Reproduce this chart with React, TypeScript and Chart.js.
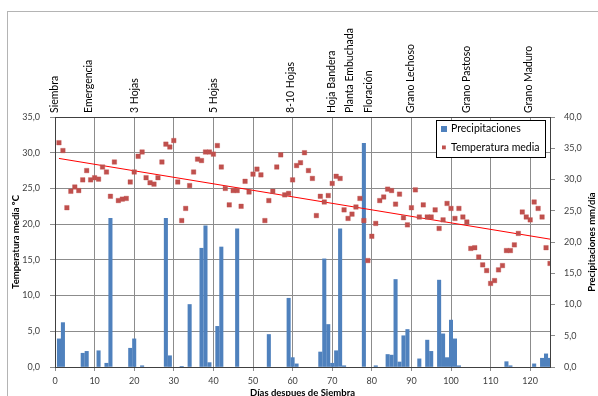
import React, { useEffect, useRef } from "react";
import { Chart, registerables } from "chart.js";

Chart.register(...registerables);

// Daily mean temperature (ºC), days 1..125 after sowing
const temperatures = [
  31.4, 30.3, 22.3, 24.6, 25.2, 24.7, 26.2, 27.5, 26.2, 26.5,
  26.3, 28.0, 27.3, 23.9, 28.7, 23.3, 23.5, 23.6, 25.9, 27.3,
  29.5, 30.1, 26.5, 25.8, 25.6, 26.5, 28.7, 31.2, 30.8, 31.7,
  25.9, 20.5, 22.2, 25.4, 27.3, 29.1, 28.9, 30.1, 30.1, 29.8,
  31.0, 28.0, 25.0, 22.7, 24.7, 24.7, 22.5, 26.0, 24.5, 27.0,
  27.7, 26.9, 20.5, 23.3, 24.6, 28.0, 29.7, 24.1, 24.3, 26.2,
  28.2, 28.6, 30.0, 27.5, 26.4, 21.2, 23.9, 23.1, 24.0, 25.7,
  26.7, 26.4, 22.0, 20.8, 21.4, 22.4, 23.6, 20.5, 14.9, 18.3,
  20.1, 23.3, 23.8, 24.9, 24.7, 22.8, 24.2, 20.9, 19.9, 22.3,
  24.8, 21.0, 22.7, 21.0, 21.0, 22.0, 19.4, 20.6, 22.9, 22.2,
  20.8, 22.2, 21.0, 20.3, 16.6, 16.7, 15.4, 14.3, 13.5, 11.7,
  12.1, 13.6, 14.2, 16.3, 16.3, 17.1, 18.7, 21.7, 21.0, 20.6,
  23.1, 22.2, 21.0, 16.7, 14.5,
];

// Daily precipitation (mm/día)
const precipDays = [
  1, 2, 7, 8, 11, 13, 14, 19, 20, 22,
  28, 29, 32, 34, 37, 38, 39, 41, 42, 46,
  54, 59, 60, 61, 67, 68, 69, 70, 71, 72,
  73, 78, 81, 84, 85, 86, 87, 88, 89, 92,
  94, 95, 97, 98, 99, 100, 101, 102, 114, 115,
  121, 123, 124, 125,
];
const precipValues = [
  4.5, 7.1, 2.2, 2.5, 2.6, 0.6, 23.8, 3.0, 4.5, 0.2,
  23.8, 1.8, 0.1, 10.0, 19.0, 22.6, 0.7, 6.5, 19.2, 22.1,
  5.2, 11.0, 1.5, 0.5, 2.4, 17.3, 6.8, 0.6, 2.6, 22.1,
  0.2, 35.8, 0.2, 2.0, 1.9, 14.0, 0.8, 5.0, 6.0, 1.3,
  4.3, 2.5, 13.9, 5.3, 1.5, 7.5, 4.5, 0.2, 0.85, 0.2,
  0.5, 1.4, 2.1, 1.4,
];

// Linear trend of temperature (end points)
const trendDays = [1, 125];
const trendValues = [29.2, 17.9];

// Crop stages (top labels)
const stageDays = [0, 8.6, 20, 40, 59.5, 69.8, 74.4, 79.2, 89.7, 103.9, 119.5];
const stageNames = [
  "Siembra",
  "Emergencia",
  "3 Hojas",
  "5 Hojas",
  "8-10 Hojas",
  "Hoja Bandera",
  "Planta Embuchada",
  "Floración",
  "Grano Lechoso",
  "Grano Pastoso",
  "Grano Maduro",
];

const seriesNames = ["Precipitaciones", "Temperatura media"];
const xTitle = "Días despues de Siembra";
const yLeftTitle = "Temperatura media ºC";
const yRightTitle = "Precipitaciones mm/día";

const FONT = "Lato, 'Open Sans', sans-serif";
const BLUE = "#4F81BD";
const RED = "#C0504D";
const GRID = "#8c8c8c";
const AXIS = "#404040";

const fmt = (v: number) => Number(v).toFixed(1).replace(".", ",");

export default function App() {
  const ref = useRef<HTMLCanvasElement>(null);

  useEffect(() => {
    const canvas = ref.current;
    if (!canvas) return;

    const outerBorder = {
      id: "outerBorder",
      beforeDraw(chart: any) {
        const ctx = chart.ctx;
        ctx.save();
        ctx.strokeStyle = "#b4b4b4";
        ctx.lineWidth = 1;
        ctx.strokeRect(7.5, 11.5, 700, 500);
        ctx.restore();
      },
    };

    const stageLabels = {
      id: "stageLabels",
      afterDraw(chart: any) {
        const ctx = chart.ctx;
        const xs = chart.scales.x;
        const top = chart.chartArea.top;
        ctx.save();
        ctx.font = `10.5px ${FONT}`;
        ctx.fillStyle = "#000";
        ctx.textAlign = "left";
        ctx.textBaseline = "middle";
        stageDays.forEach((d, i) => {
          const x = xs.getPixelForValue(d);
          ctx.save();
          ctx.translate(x, top - 4);
          ctx.rotate(-Math.PI / 2);
          ctx.fillText(stageNames[i], 0, 0);
          ctx.restore();
        });
        ctx.restore();
      },
    };

    const rightTitle = {
      id: "rightTitle",
      afterDraw(chart: any) {
        const ctx = chart.ctx;
        const { top, bottom } = chart.chartArea;
        ctx.save();
        ctx.translate(592, (top + bottom) / 2);
        ctx.rotate(-Math.PI / 2);
        ctx.font = `bold 9.5px ${FONT}`;
        ctx.fillStyle = "#000";
        ctx.textAlign = "center";
        ctx.textBaseline = "middle";
        ctx.fillText(yRightTitle, 0, 0);
        ctx.restore();
      },
    };

    const legendBox = {
      id: "legendBox",
      afterDraw(chart: any) {
        const ctx = chart.ctx;
        const { right, top } = chart.chartArea;
        const bx = Math.round(right - 114);
        const by = Math.round(top + 3);
        const bw = 109;
        const bh = 37;
        ctx.save();
        ctx.fillStyle = "#fff";
        ctx.fillRect(bx, by, bw, bh);
        ctx.strokeStyle = "#000";
        ctx.lineWidth = 1;
        ctx.strokeRect(bx + 0.5, by + 0.5, bw, bh);
        ctx.font = `10.5px ${FONT}`;
        ctx.textBaseline = "middle";
        ctx.textAlign = "left";
        ctx.fillStyle = BLUE;
        ctx.fillRect(bx + 5, by + 6, 6, 6);
        ctx.fillStyle = "#000";
        ctx.fillText(seriesNames[0], bx + 15, by + 8.5);
        ctx.fillStyle = RED;
        ctx.fillRect(bx + 6, by + 25.5, 3.8, 3.8);
        ctx.fillStyle = "#000";
        ctx.fillText(seriesNames[1], bx + 15, by + 27.5);
        ctx.restore();
      },
    };

    const chart = new Chart(canvas, {
      type: "bar",
      data: {
        datasets: [
          {
            type: "scatter",
            label: seriesNames[1],
            data: temperatures.map((t, i) => ({ x: i + 1, y: t })),
            xAxisID: "x",
            yAxisID: "y",
            pointStyle: "rect",
            pointRadius: 3.2,
            backgroundColor: RED,
            borderColor: "rgba(192,80,77,0.35)",
            borderWidth: 1,
            order: 1,
          } as any,
          {
            type: "line",
            label: "Lineal (Temperatura media)",
            data: trendDays.map((d, i) => ({ x: d, y: trendValues[i] })),
            xAxisID: "x",
            yAxisID: "y",
            borderColor: "#FF0000",
            borderWidth: 1,
            pointRadius: 0,
            fill: false,
            order: 2,
          } as any,
          {
            type: "bar",
            label: seriesNames[0],
            data: precipDays.map((d, i) => ({ x: d, y: precipValues[i] })),
            xAxisID: "x",
            yAxisID: "y2",
            backgroundColor: BLUE,
            borderWidth: 0,
            barThickness: 3.4,
            order: 3,
          } as any,
        ],
      },
      options: {
        responsive: false,
        animation: false,
        layout: { padding: 0 },
        plugins: {
          legend: { display: false },
          tooltip: { enabled: false },
        },
        scales: {
          x: {
            type: "linear",
            position: "bottom",
            min: 0,
            max: 125,
            offset: false,
            ticks: {
              stepSize: 10,
              includeBounds: false,
              autoSkip: false,
              maxRotation: 0,
              padding: 5,
              color: AXIS,
              font: { family: FONT, size: 9 },
            },
            grid: { color: GRID, lineWidth: 1, tickLength: 4, offset: false },
            border: { color: AXIS },
            title: {
              display: true,
              text: xTitle,
              color: "#000",
              font: { family: FONT, size: 9.5, weight: "bold" },
              padding: { top: 0, bottom: 11 },
            },
            afterFit: (s: any) => {
              s.height = 43;
            },
          } as any,
          xTop: {
            type: "linear",
            position: "top",
            min: 0,
            max: 125,
            offset: false,
            ticks: { display: false },
            grid: { display: false, drawTicks: false },
            border: { display: true, color: AXIS },
            afterFit: (s: any) => {
              s.height = 117;
            },
          } as any,
          y: {
            type: "linear",
            position: "left",
            min: 0,
            max: 35,
            ticks: {
              stepSize: 5,
              padding: 10,
              color: AXIS,
              font: { family: FONT, size: 9 },
              callback: (v: any) => fmt(v),
            },
            grid: { color: GRID, lineWidth: 1, tickLength: 5 },
            border: { color: AXIS },
            title: {
              display: true,
              text: yLeftTitle,
              color: "#000",
              font: { family: FONT, size: 9.5, weight: "bold" },
              padding: { top: 10, bottom: 0 },
            },
            afterFit: (s: any) => {
              s.width = 55;
            },
          } as any,
          y2: {
            type: "linear",
            position: "right",
            min: 0,
            max: 40,
            ticks: {
              stepSize: 5,
              padding: 9,
              color: AXIS,
              font: { family: FONT, size: 9 },
              callback: (v: any) => fmt(v),
            },
            grid: { drawOnChartArea: false, color: GRID, tickLength: 5 },
            border: { color: AXIS },
            afterFit: (s: any) => {
              s.width = 48;
            },
          } as any,
        },
      },
      plugins: [outerBorder, stageLabels, rightTitle, legendBox],
    });

    return () => chart.destroy();
  }, []);

  return (
    <div
      style={{
        position: "absolute",
        left: 0,
        top: 0,
        width: 598,
        height: 396,
        overflow: "hidden",
        background: "#fff",
      }}
    >
      <canvas ref={ref} width={598} height={410} style={{ display: "block" }} />
    </div>
  );
}
